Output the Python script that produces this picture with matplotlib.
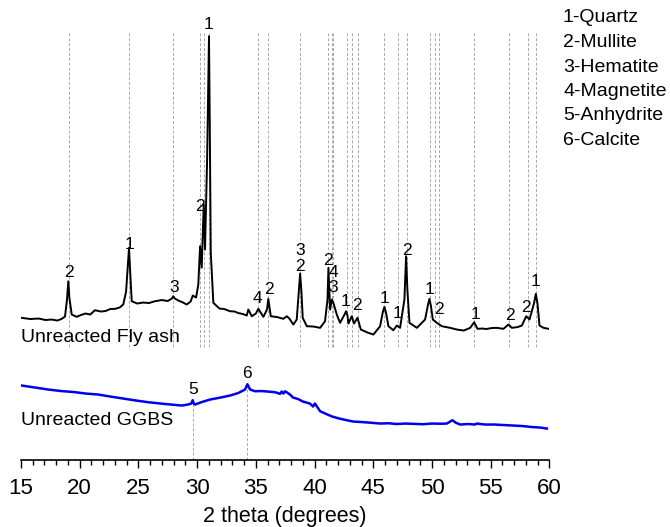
import matplotlib
matplotlib.use('Agg')
import matplotlib.pyplot as plt
from matplotlib import font_manager
from matplotlib.ticker import MultipleLocator

# Unreacted fly ash pattern (2 theta in degrees, intensity in a.u.)
fly_ash_2theta = [15.06, 15.8, 16.5, 17.1, 17.6, 18.1, 18.47, 18.75, 18.92, 19.03, 19.12, 19.32, 19.74,
                  20.1, 20.5, 20.9, 21.30, 21.8, 22.2, 22.6, 23.01, 23.4, 23.71, 23.95, 24.10, 24.20,
                  24.28, 24.43, 24.9, 25.4, 25.9, 26.41, 27.0, 27.5, 27.85, 27.97, 28.1, 28.4, 28.8,
                  29.11, 29.45, 29.63, 29.91, 30.10, 30.25, 30.39, 30.56, 30.67, 30.85, 31.01, 31.08,
                  31.16, 31.38, 31.9, 32.3, 32.80, 33.2, 33.5, 33.9, 34.22, 34.36, 34.65, 35.0, 35.21,
                  35.64, 35.95, 36.06, 36.27, 36.8, 37.34, 37.63, 37.85, 38.19, 38.48, 38.66, 38.77,
                  38.88, 38.99, 39.34, 39.9, 40.47, 40.89, 41.10, 41.18, 41.32, 41.47, 41.60, 41.89,
                  42.17, 42.55, 42.68, 42.80, 42.88, 43.17, 43.36, 43.65, 43.94, 44.5, 45.01, 45.58,
                  45.82, 45.95, 46.08, 46.29, 46.71, 47.00, 47.28, 47.65, 47.79, 47.90, 48.08, 48.71,
                  49.41, 49.66, 49.78, 49.90, 50.07, 50.41, 50.84, 51.2, 51.54, 52.11, 52.7, 53.25,
                  53.59, 53.87, 54.3, 54.6, 55.1, 55.52, 56.08, 56.51, 56.80, 57.3, 57.65, 58.02,
                  58.30, 58.70, 58.84, 58.98, 59.15, 59.49, 59.92]
fly_ash_intensity = [141.7, 140.5, 141.0, 139.5, 140.0, 139.0, 140.7, 143.0, 160.0, 178.3, 162.0, 145.0,
                     142.7, 144.5, 146.0, 145.0, 149.3, 148.0, 148.5, 150.5, 150.7, 152.0, 155.0, 168.0,
                     195.0, 211.7, 192.0, 158.3, 156.0, 157.0, 156.5, 158.3, 159.5, 158.5, 161.0, 163.3,
                     161.0, 159.0, 157.0, 155.0, 158.0, 164.0, 162.0, 175.0, 213.3, 192.0, 255.0, 210.0,
                     300.0, 423.3, 330.0, 207.0, 156.7, 151.0, 150.5, 148.3, 148.0, 146.5, 145.5, 144.0,
                     150.0, 143.3, 146.0, 150.7, 142.7, 150.0, 160.7, 143.3, 142.5, 140.7, 143.3, 141.0,
                     135.0, 140.0, 168.0, 186.0, 168.0, 141.7, 133.3, 133.0, 131.7, 138.3, 160.0, 191.7,
                     150.0, 160.0, 156.7, 145.0, 136.7, 145.0, 148.3, 144.0, 136.0, 143.3, 136.0, 141.7,
                     130.0, 127.0, 125.0, 133.3, 148.0, 152.7, 147.0, 133.3, 129.3, 134.0, 131.7, 160.0,
                     203.3, 170.0, 136.7, 131.7, 140.0, 155.0, 160.7, 154.0, 140.0, 136.7, 133.3, 132.5,
                     131.7, 130.0, 129.0, 131.7, 137.3, 130.7, 131.0, 130.5, 131.5, 131.7, 130.7, 135.0,
                     131.7, 132.5, 134.0, 143.3, 140.0, 157.0, 165.7, 156.0, 134.0, 131.7, 130.7]

# Unreacted GGBS pattern
ggbs_2theta = [15.06, 16.2, 17.33, 18.4, 19.5, 20.5, 21.58, 22.6, 23.7, 24.8, 25.84, 27.3, 28.69,
               29.22, 29.50, 29.62, 29.72, 29.82, 30.4, 31.1, 32.0, 32.8, 33.5, 34.08, 34.28, 34.51,
               34.93, 35.5, 36.0, 36.64, 37.06, 37.20, 37.35, 37.49, 37.91, 38.16, 38.6, 39.0, 39.6,
               39.87, 40.03, 40.47, 41.0, 41.5, 42.1, 42.74, 43.3, 44.0, 44.8, 45.58, 46.3, 47.0,
               47.7, 48.39, 49.2, 50.0, 50.7, 51.26, 51.74, 52.0, 52.39, 53.1, 53.67, 53.82, 54.5,
               55.3, 56.1, 56.91, 57.7, 58.5, 59.2, 59.78]
ggbs_intensity = [74.0, 72.0, 70.0, 68.5, 67.5, 66.0, 65.0, 63.0, 61.0, 59.0, 57.3, 55.5, 54.0,
                  55.0, 56.0, 59.3, 56.0, 55.0, 57.5, 60.0, 62.0, 64.0, 66.5, 70.0, 75.3, 70.0,
                  68.3, 68.5, 68.0, 67.3, 65.7, 68.0, 66.0, 68.3, 65.0, 62.0, 60.5, 58.0, 56.0,
                  53.0, 56.0, 48.3, 45.5, 43.0, 41.0, 39.3, 38.0, 37.5, 36.8, 36.0, 36.3, 35.5,
                  36.0, 35.7, 35.3, 36.0, 35.8, 36.0, 39.3, 37.0, 35.0, 35.5, 35.0, 36.0, 35.0,
                  35.0, 34.5, 34.0, 33.5, 32.5, 32.0, 31.0]

# Reference lines of identified phases
fly_ash_ref_lines = [19.06, 24.22, 27.95, 30.27, 30.59, 31.01, 35.21, 36.06, 38.79, 41.18, 41.47,
                     41.60, 42.74, 43.22, 43.73, 45.95, 47.09, 47.85, 49.84, 50.26, 50.60, 53.61,
                     56.57, 58.13, 58.87]
ggbs_ref_lines = [29.62, 34.28]

# Peak labels: (2 theta, height, phase number)
peak_x = [19.09, 24.28, 28.03, 30.25, 31.01, 35.10, 36.12, 38.77, 38.77, 41.12, 41.62, 41.60,
          42.65, 43.60, 45.95, 47.03, 47.88, 49.78, 50.55, 53.67, 56.60, 58.02, 58.85,
          29.65, 34.25]
peak_y = [187, 215, 172, 253, 435, 161, 170, 209, 193, 199, 187, 172,
          158, 154, 161, 146, 209, 170, 150, 145, 144, 152, 178,
          70, 86]
peak_text = ['2', '1', '3', '2', '1', '4', '2', '3', '2', '2', '4', '3',
             '1', '2', '1', '1', '2', '1', '2', '1', '2', '2', '1',
             '5', '6']

phases = ['1-Quartz', '2-Mullite', '3-Hematite', '4-Magnetite', '5-Anhydrite', '6-Calcite']

plt.rcParams['font.family'] = ['Liberation Sans', 'DejaVu Sans']
names = {f.name for f in font_manager.fontManager.ttflist}
tick_family = 'Liberation Sans Narrow' if 'Liberation Sans Narrow' in names else 'Liberation Sans'

fig = plt.figure(figsize=(6.7, 5.27), dpi=100)
ax = fig.add_axes([0.0313, 0.128, 0.7888, 0.835])

ax.vlines(fly_ash_ref_lines, 113, 427, colors='#a8a8a8', linestyles=(0, (3, 2)), linewidth=0.7, zorder=1)
ax.vlines(ggbs_ref_lines, 0, [62, 75], colors='#a8a8a8', linestyles=(0, (3, 2)), linewidth=0.7, zorder=1)

ax.plot(fly_ash_2theta, fly_ash_intensity, color='black', linewidth=1.4, zorder=3)
ax.plot(ggbs_2theta, ggbs_intensity, color='#0000ee', linewidth=1.8, zorder=3)

for x, y, t in zip(peak_x, peak_y, peak_text):
    ax.text(x, y, t, ha='center', va='center', fontsize=12.5, zorder=4)

ax.text(15.0, 122, 'Unreacted Fly ash', ha='left', va='center', fontsize=14)
ax.text(15.0, 39, 'Unreacted GGBS', ha='left', va='center', fontsize=14)

for i, p in enumerate(phases):
    fig.text(563 / 670, 1 - (18 + i * 24.5) / 527, p, ha='left', va='center', fontsize=14)

ax.set_xlim(15, 60)
ax.set_ylim(0, 440)
ax.xaxis.set_major_locator(MultipleLocator(5))
ax.xaxis.set_minor_locator(MultipleLocator(1))
ax.tick_params(axis='x', which='major', length=6, width=1, pad=7)
ax.tick_params(axis='x', which='minor', length=3.5, width=1)
for lbl in ax.get_xticklabels():
    lbl.set_fontfamily(tick_family)
    lbl.set_fontsize(16)
ax.set_yticks([])
for s in ['left', 'right', 'top']:
    ax.spines[s].set_visible(False)
ax.spines['bottom'].set_linewidth(1.2)
ax.set_xlabel('2 theta (degrees)', fontsize=15.5, labelpad=5)

fig.savefig('out.png', dpi=100, facecolor='white')
